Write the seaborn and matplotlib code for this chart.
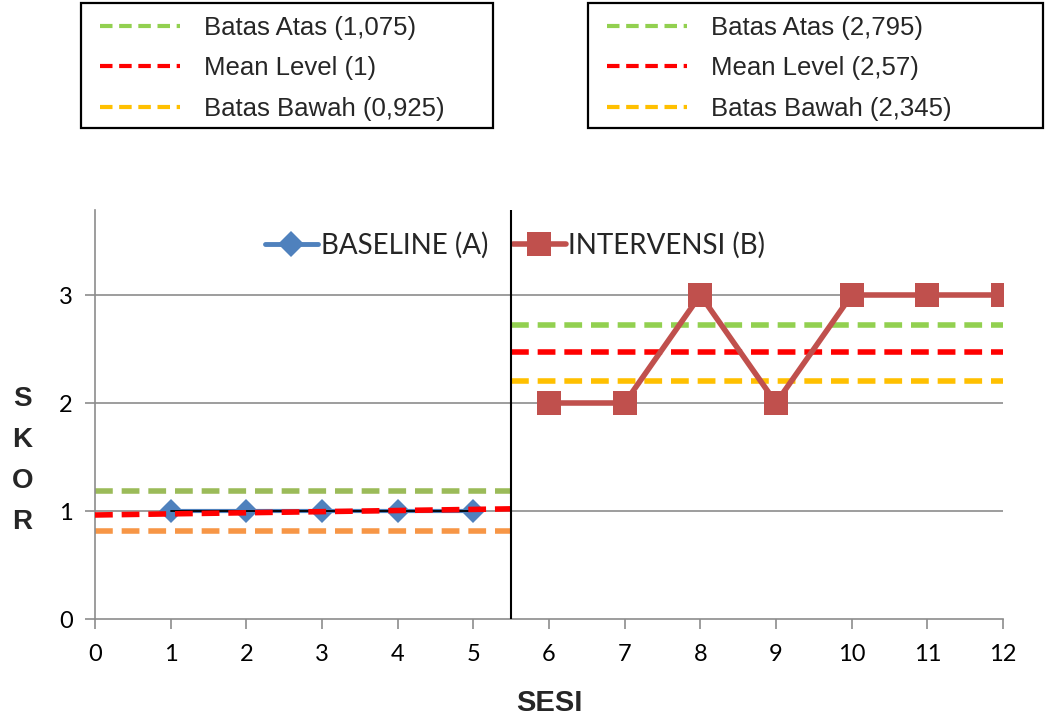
import matplotlib
matplotlib.use("Agg")
import matplotlib.pyplot as plt
from matplotlib.lines import Line2D
from matplotlib.patches import Rectangle
import seaborn as sns
import pandas as pd

# ---- data ----
sesi_a = [1, 2, 3, 4, 5]
skor_a = [1, 1, 1, 1, 1]
sesi_b = [6, 7, 8, 9, 10, 11, 12]
skor_b = [2, 2, 3, 2, 3, 3, 3]

# drawn reference lines (as they appear in the chart)
phase_a_x = [0, 5.5]
phase_b_x = [5.5, 12]
a_upper = [1.185, 1.185]
a_mean = [0.963, 1.02]
a_lower = [0.815, 0.815]
b_upper = [2.72, 2.72]
b_mean = [2.47, 2.47]
b_lower = [2.20, 2.20]
phase_split = 5.5

legend_a = ["Batas Atas (1,075)", "Mean Level (1)", "Batas Bawah (0,925)"]
legend_b = ["Batas Atas (2,795)", "Mean Level (2,57)", "Batas Bawah (2,345)"]
series_names = ["BASELINE (A)", "INTERVENSI (B)"]
x_ticks = list(range(0, 13))
y_ticks = [0, 1, 2, 3]

sns.set_theme(style="white")
plt.rcParams['font.family'] = ['Lato', 'DejaVu Sans']

W, H = 1047, 716
fig = plt.figure(figsize=(W / 100, H / 100), dpi=100)
ax = fig.add_axes([95 / W, 1 - 619 / H, 908 / W, 409 / H])

df_a = pd.DataFrame({"SESI": sesi_a, "SKOR": skor_a})
df_b = pd.DataFrame({"SESI": sesi_b, "SKOR": skor_b})

# grid
for yv in y_ticks[1:]:
    ax.axhline(yv, color="#8c8c8c", lw=1.2, zorder=1)

dash = (3.2, 1.6)
# baseline phase reference lines
ax.plot(phase_a_x, a_upper, color="#9BBB59", lw=4, dashes=dash, zorder=2)
ax.plot(phase_a_x, a_lower, color="#F79646", lw=4, dashes=dash, zorder=2)
# intervention phase reference lines
ax.plot(phase_b_x, b_upper, color="#92D050", lw=4, dashes=dash, zorder=2)
ax.plot(phase_b_x, b_mean, color="#FF0000", lw=4, dashes=dash, zorder=2)
ax.plot(phase_b_x, b_lower, color="#FFC000", lw=4, dashes=dash, zorder=2)

# series
sns.lineplot(data=df_a, x="SESI", y="SKOR", ax=ax, color="#4F81BD", lw=3,
             marker="D", markersize=12, markeredgewidth=0, zorder=3)
ax.plot(sesi_a, skor_a, color="black", lw=1.3, zorder=4)
ax.plot(phase_a_x, a_mean, color="#FF0000", lw=4, dashes=dash, zorder=5)
sns.lineplot(data=df_b, x="SESI", y="SKOR", ax=ax, color="#C0504D", lw=4,
             marker="s", markersize=17, markeredgewidth=0, zorder=3)

ax.axvline(phase_split, color="black", lw=1.5, zorder=6)

ax.set_xlim(0, 12)
ax.set_ylim(0, 409 / 108)
ax.set_xticks(x_ticks)
ax.set_yticks(y_ticks)
ax.tick_params(axis="both", which="major", direction="out", length=7,
               width=1.2, color="#8c8c8c", labelsize=17, labelcolor="black",
               bottom=True, left=True)
ax.tick_params(axis="x", pad=11)
ax.tick_params(axis="y", pad=9)
for s in ["top", "right"]:
    ax.spines[s].set_visible(False)
for s in ["left", "bottom"]:
    ax.spines[s].set_color("#8c8c8c")
    ax.spines[s].set_linewidth(1.2)

ax.set_xlabel("SESI", fontsize=21, fontweight="bold", family="Liberation Sans",
              labelpad=17)
ax.set_ylabel("S\nK\nO\nR", rotation=0, fontsize=20, fontweight="bold",
              family="Liberation Sans", linespacing=1.74, va="center", ha="center")
ax.yaxis.set_label_coords(-0.080, 0.388)

# inner legend
h1 = Line2D([], [], color="#4F81BD", lw=3.5, marker="D", markersize=13, markeredgewidth=0)
h2 = Line2D([], [], color="#C0504D", lw=4, marker="s", markersize=17, markeredgewidth=0)
ax.legend([h1, h2], series_names, loc="upper left",
          bbox_to_anchor=((265 - 95) / 908, (619 - 232) / 409),
          ncol=2, frameon=False, fontsize=20, handlelength=1.9, handletextpad=0.1,
          columnspacing=0.9, borderaxespad=0.0, borderpad=0.0)

# top legends
def top_legend(labels, colors, x0, x1):
    handles = [Line2D([], [], color=c, lw=3, dashes=(3, 1.6)) for c in colors]
    fig.patches.append(Rectangle((x0 / W, 1 - 128 / H), (x1 - x0) / W, 125 / H,
                                 transform=fig.transFigure, fill=False,
                                 edgecolor="black", lw=1.6))
    fig.legend(handles, labels, loc="upper left",
               bbox_to_anchor=((x0 + 19) / W, 1 - 16 / H),
               frameon=False, prop={"family": "Liberation Sans", "size": 18.5},
               handlelength=3.1, handletextpad=0.95, labelspacing=0.64,
               borderaxespad=0.0, borderpad=0.0)

top_legend(legend_a, ["#92D050", "#FF0000", "#FFC000"], 81, 493)
top_legend(legend_b, ["#92D050", "#FF0000", "#FFC000"], 588, 1043)

fig.savefig("out.png", dpi=100)
